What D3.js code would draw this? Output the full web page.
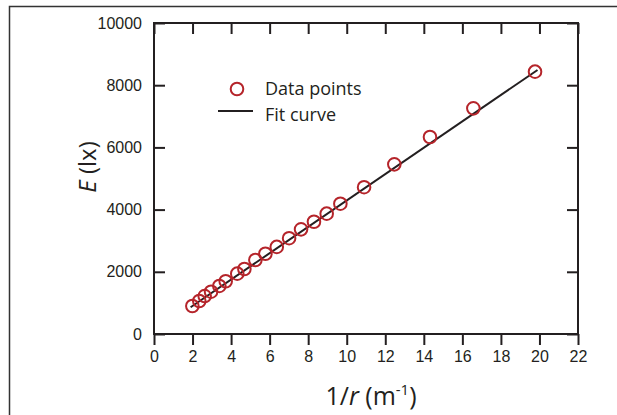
<!DOCTYPE html>
<html>
<head>
<meta charset="utf-8">
<script src="https://cdn.jsdelivr.net/npm/d3@7"></script>
<style>
  body { margin: 0; background: #fff; }
  svg { display: block; font-family: "Open Sans", sans-serif; }
</style>
</head>
<body>
<svg></svg>
<script>
// measured points: inverse distance (1/m) and illuminance (lx)
const invR = [1.99, 2.35, 2.63, 2.96, 3.39, 3.72, 4.32, 4.69, 5.26, 5.78, 6.37, 7.01, 7.63, 8.30, 8.96, 9.67, 10.90, 12.47, 14.32, 16.57, 19.77];
const illum = [900, 1060, 1220, 1360, 1545, 1695, 1940, 2090, 2380, 2580, 2800, 3080, 3365, 3610, 3870, 4190, 4720, 5455, 6335, 7255, 8435];

// fit line end points
const fitX = [1.9, 19.9];
const fitY = [860, 8490];

const xTicks = [0, 2, 4, 6, 8, 10, 12, 14, 16, 18, 20, 22];
const yTicks = [0, 2000, 4000, 6000, 8000, 10000];

const width = 617;
const height = 415;
const margin = { top: 23, right: 39, bottom: 81, left: 154 };
const ink = "#231f20";
const red = "#b5242a";

const svg = d3.select("svg")
    .attr("width", width)
    .attr("height", height);

// outer frame (top and left edges only)
svg.append("path")
    .attr("d", "M9.5,415 V6.5 H617")
    .attr("fill", "none")
    .attr("stroke", "#333")
    .attr("stroke-width", 1.5);

const xScale = d3.scaleLinear()
    .domain([0, 22])
    .range([margin.left, width - margin.right]);

const yScale = d3.scaleLinear()
    .domain([0, 10000])
    .range([height - margin.bottom, margin.top]);

const x0 = xScale(0), x1 = xScale(22), y0 = yScale(0), y1 = yScale(10000);

//Axes: bottom ticks point out, the other three point in
const styleAxis = (g) => {
    g.select(".domain").remove();
    g.selectAll(".tick line").attr("stroke", ink).attr("stroke-width", 2);
    g.selectAll(".tick text").attr("fill", ink).style("font-size", "16px");
};

svg.append("g")
    .attr("transform", "translate(0," + y0 + ")")
    .call(d3.axisBottom(xScale).tickValues(xTicks).tickFormat(d3.format("d")).tickSizeInner(11).tickSizeOuter(0).tickPadding(6))
    .call(styleAxis);

svg.append("g")
    .attr("transform", "translate(" + x0 + ",0)")
    .call(d3.axisLeft(yScale).tickValues(yTicks).tickFormat(d3.format("d")).tickSizeInner(-11).tickSizeOuter(0).tickPadding(12))
    .call(styleAxis);

svg.append("g")
    .attr("transform", "translate(0," + y1 + ")")
    .call(d3.axisTop(xScale).tickValues(xTicks).tickSizeInner(-11).tickSizeOuter(0).tickFormat(""))
    .call(styleAxis);

svg.append("g")
    .attr("transform", "translate(" + x1 + ",0)")
    .call(d3.axisRight(yScale).tickValues(yTicks).tickSizeInner(-11).tickSizeOuter(0).tickFormat(""))
    .call(styleAxis);

// plot box
svg.append("rect")
    .attr("x", x0)
    .attr("y", y1)
    .attr("width", x1 - x0)
    .attr("height", y0 - y1)
    .attr("fill", "none")
    .attr("stroke", ink)
    .attr("stroke-width", 2);

// fit line
const line = d3.line()
    .x((d) => xScale(d[0]))
    .y((d) => yScale(d[1]));

svg.append("path")
    .datum(d3.zip(fitX, fitY))
    .attr("d", line)
    .attr("fill", "none")
    .attr("stroke", ink)
    .attr("stroke-width", 2);

// data points
svg.selectAll("circle.pt")
    .data(d3.zip(invR, illum))
    .enter()
    .append("circle")
    .attr("class", "pt")
    .attr("cx", (d) => xScale(d[0]))
    .attr("cy", (d) => yScale(d[1]))
    .attr("r", 6.3)
    .attr("fill", "none")
    .attr("stroke", red)
    .attr("stroke-width", 2);

// legend
const legend = svg.append("g");
legend.append("circle")
    .attr("cx", 237).attr("cy", 89).attr("r", 6.3)
    .attr("fill", "none").attr("stroke", red).attr("stroke-width", 2);
legend.append("text")
    .attr("x", 265).attr("y", 95)
    .attr("fill", ink).style("font-size", "18px")
    .text("Data points");
legend.append("line")
    .attr("x1", 218).attr("x2", 253).attr("y1", 111).attr("y2", 111)
    .attr("stroke", ink).attr("stroke-width", 2);
legend.append("text")
    .attr("x", 265).attr("y", 121)
    .attr("fill", ink).style("font-size", "18px")
    .text("Fit curve");

// axis titles
const xTitle = svg.append("text")
    .attr("x", 371)
    .attr("y", 405)
    .attr("text-anchor", "middle")
    .attr("fill", ink)
    .style("font-size", "25px");
xTitle.append("tspan").text("1/");
xTitle.append("tspan").style("font-style", "italic").text("r");
xTitle.append("tspan").text(" (m");
xTitle.append("tspan").attr("dy", -10).style("font-size", "15px").text("-1");
xTitle.append("tspan").attr("dy", 10).text(")");

const yTitle = svg.append("text")
    .attr("transform", "translate(96,167) rotate(-90)")
    .attr("text-anchor", "middle")
    .attr("fill", ink)
    .style("font-size", "24px");
yTitle.append("tspan").style("font-style", "italic").text("E");
yTitle.append("tspan").text(" (lx)");
</script>
</body>
</html>
